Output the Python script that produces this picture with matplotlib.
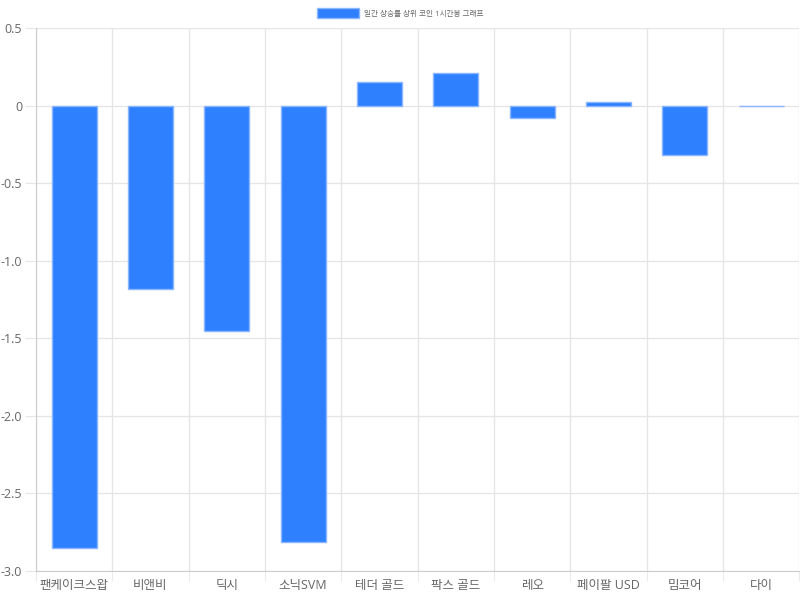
import matplotlib
matplotlib.use('Agg')
import matplotlib.pyplot as plt
import numpy as np

plt.rcParams['font.family'] = ['Open Sans', 'Noto Sans CJK KR', 'DejaVu Sans']

coins = ['팬케이크스왑', '비앤비', '딕시', '소닉SVM', '테더 골드',
         '팍스 골드', '레오', '페이팔 USD', '밈코어', '다이']
change = [-2.85, -1.18, -1.45, -2.81, 0.15, 0.21, -0.08, 0.02, -0.32, -0.005]
yticks = [0.5, 0, -0.5, -1.0, -1.5, -2.0, -2.5, -3.0]
ytick_labels = ['0.5', '0', '-0.5', '-1.0', '-1.5', '-2.0', '-2.5', '-3.0']
series_name = '일간 상승률 상위 코인 1시간봉 그래프'

FILL = '#2f80ff'
EDGE = '#8ab6ff'
GRID = '#e6e6e6'
AXIS = '#cccccc'
TXT = '#666666'

fig = plt.figure(figsize=(8, 6), dpi=100)
ax = fig.add_axes([0.045, 0.0483, 0.954, 0.905])

x = np.arange(len(coins))
ax.bar(x, change, 0.59, color=FILL, edgecolor=EDGE, linewidth=1.0,
       label=series_name, zorder=3)

ax.set_xlim(-0.5, len(coins) - 0.5)
ax.set_ylim(-3.0, 0.5)
ax.set_yticks(yticks)
ax.set_yticklabels(ytick_labels)
ax.set_xticks(x)
ax.set_xticklabels(coins)
ax.set_xticks(np.arange(-0.5, len(coins), 1), minor=True)

ax.grid(False)
ax.grid(axis='y', which='major', color=GRID, lw=1, zorder=0)
ax.grid(axis='x', which='minor', color=GRID, lw=1, zorder=0)
ax.set_axisbelow(True)

for s in ('top', 'right'):
    ax.spines[s].set_visible(False)
for s in ('left', 'bottom'):
    ax.spines[s].set_color(AXIS)

ax.tick_params(axis='y', which='major', length=8, color=GRID, labelsize=9,
               labelcolor=TXT, pad=2)
ax.tick_params(axis='x', which='major', length=0, labelsize=9,
               labelcolor=TXT, pad=6)
ax.tick_params(axis='x', which='minor', length=7, color=GRID)

fig.legend(loc='upper center', bbox_to_anchor=(0.5, 1.0), frameon=False,
           fontsize=5.5, labelcolor=TXT, handlelength=5.5, handleheight=1.8,
           handletextpad=0.6, borderaxespad=0.6)

fig.savefig('out.png', dpi=100)
